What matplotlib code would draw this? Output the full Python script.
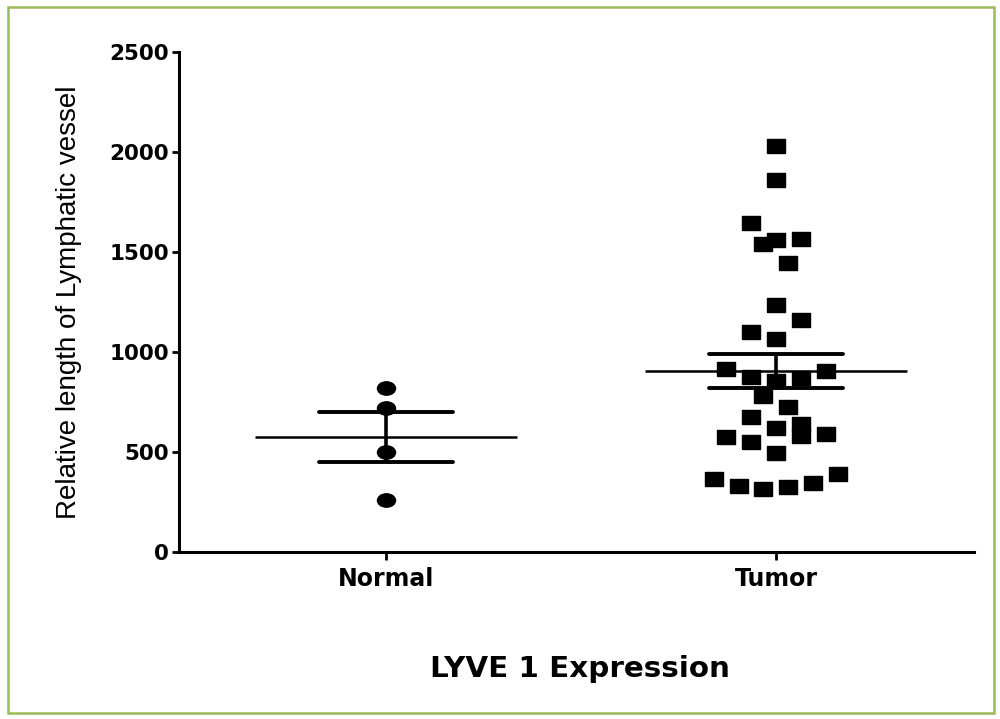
import numpy as np
import matplotlib
matplotlib.use("Agg")
import matplotlib.pyplot as plt
from matplotlib.markers import MarkerStyle
from matplotlib.transforms import Affine2D
from matplotlib.patches import Rectangle

groups = ["Normal", "Tumor"]
normal_vals = [820, 720, 500, 260]
normal_cols = [0, 0, 0, 0]
tumor_vals = [2030, 1860, 1645, 1540, 1560, 1565, 1445, 1235, 1160, 1100, 1065,
              915, 875, 855, 870, 905, 780, 725, 675, 620, 640, 580, 575, 550,
              590, 495, 365, 330, 315, 325, 345, 390]
# horizontal scatter column of each point (GraphPad-style spread)
tumor_cols = [0, 0, -2, -1, 0, 2, 1, 0, 2, -2, 0,
              -4, -2, 0, 2, 4, -1, 1, -2, 0, 2, 2, -4, -2,
              4, 0, -5, -3, -1, 1, 3, 5]
yticks = [0, 500, 1000, 1500, 2000, 2500]

fig = plt.figure(figsize=(10, 7.19), dpi=100)
ax = fig.add_axes([0.179, 0.2323, 0.795, 0.6954])

step = 0.032
ell = MarkerStyle("o", transform=Affine2D().scale(1, 0.74))
box = MarkerStyle([(-9, -7), (9, -7), (9, 7), (-9, 7), (-9, -7)])

for i, (vals, cols, mk) in enumerate([(normal_vals, normal_cols, ell),
                                      (tumor_vals, tumor_cols, box)]):
    v = np.array(vals, dtype=float)
    x = i + step * np.array(cols)
    ax.plot(x, v, linestyle="none", marker=mk, color="black", markersize=13)
    m = v.mean()
    sem = v.std(ddof=1) / np.sqrt(len(v))
    ax.hlines(m, i - 0.336, i + 0.336, color="black", lw=1.8)
    ax.hlines([m - sem, m + sem], i - 0.172, i + 0.172, color="black", lw=2.8,
              capstyle="round")
    ax.vlines(i, m - sem, m + sem, color="black", lw=2.6)

ax.set_xlim(-0.531, 1.508)
ax.set_ylim(0, 2500)
ax.set_xticks([0, 1])
ax.set_xticklabels(groups, fontsize=17, fontweight="bold", family="DejaVu Sans")
ax.set_yticks(yticks)
ax.set_yticklabels([str(t) for t in yticks], fontsize=15.5, fontweight="bold",
                   family="DejaVu Sans")
for s in ["top", "right"]:
    ax.spines[s].set_visible(False)
for s in ["left", "bottom"]:
    ax.spines[s].set_linewidth(2.2)
ax.tick_params(axis="y", length=5, width=2, pad=2)
ax.tick_params(axis="x", length=6, width=2, pad=5)

ax.set_ylabel("Relative length of Lymphatic vessel", fontsize=20,
              family="Liberation Sans", labelpad=20)
fig.text(0.58, 0.0695, "LYVE 1 Expression", fontsize=21.2, fontweight="bold",
         family="DejaVu Sans", ha="center", va="center")

fig.patches.append(Rectangle((0.008, 0.008), 0.986, 0.982,
                             transform=fig.transFigure, fill=False,
                             edgecolor="#9bbb59", lw=1.8))

fig.savefig("out.png", dpi=100)
